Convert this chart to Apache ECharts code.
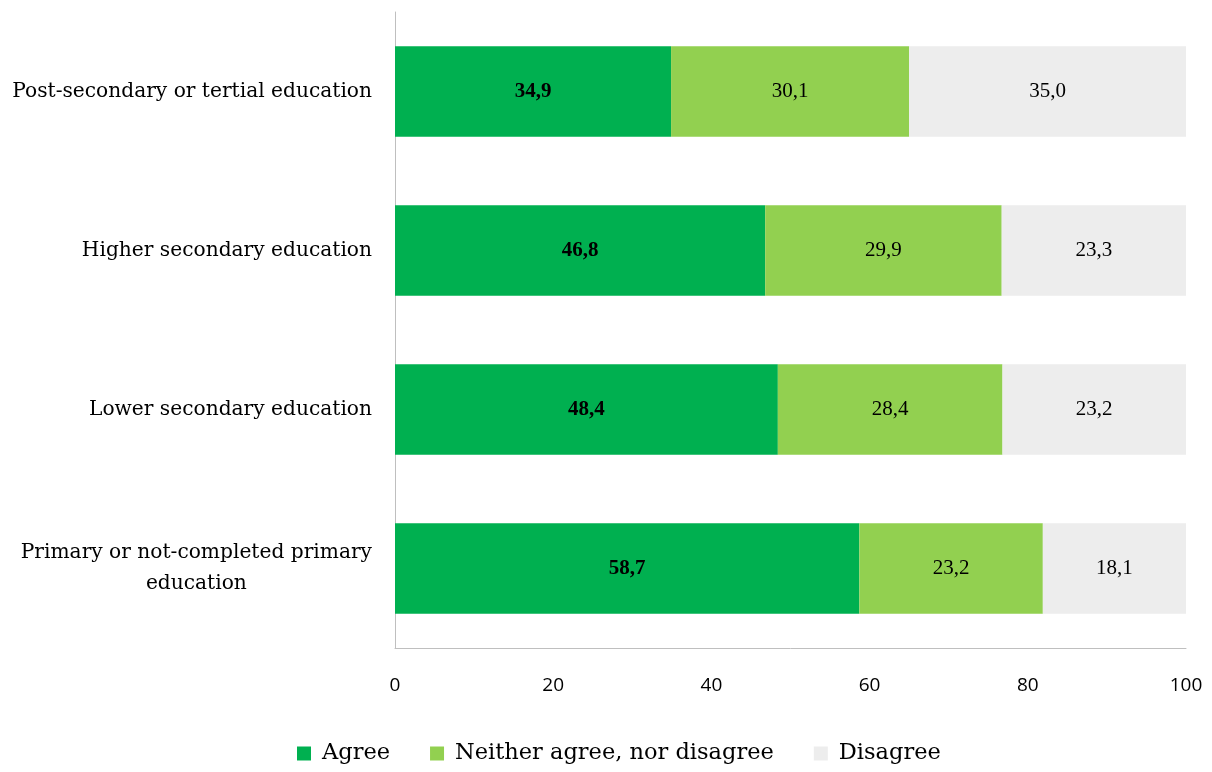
<!DOCTYPE html>
<html><head><meta charset="utf-8">
<script src="https://cdn.jsdelivr.net/npm/echarts@6/dist/echarts.min.js"></script>
<style>html,body{margin:0;padding:0;background:#fff}#c{width:1212px;height:772px}</style>
</head><body><div id="c"></div>
<script>
const categories = ["Primary or not-completed primary\neducation", "Lower secondary education", "Higher secondary education", "Post-secondary or tertial education"];
const agree = [58.7, 48.4, 46.8, 34.9];
const neither = [23.2, 28.4, 29.9, 30.1];
const disagree = [18.1, 23.2, 23.3, 35.0];
const seriesNames = ["Agree", "Neither agree, nor disagree", "Disagree"];
const xTicks = [0, 20, 40, 60, 80, 100];

const serif = "'Liberation Serif', 'DejaVu Serif', serif";
const wideSerif = "'DejaVu Serif', serif";
const fmt = p => p.value.toFixed(1).replace('.', ',');
function mk(name, data, color, bold) {
  return {
    name, type: 'bar', stack: 'a', data, barWidth: '57%',
    itemStyle: { color },
    label: { show: true, position: 'inside', formatter: fmt, color: '#000',
      fontFamily: serif, fontSize: 21, fontWeight: bold ? 'bold' : 'normal' }
  };
}
const yFont = { fontFamily: wideSerif, fontSize: 20.2, color: '#000', lineHeight: 31 };
const chart = echarts.init(document.getElementById('c'));
chart.setOption({
  animation: false,
  grid: { left: 395, right: 26, top: 12, bottom: 124, containLabel: false },
  legend: {
    bottom: 2, left: 292, itemWidth: 14, itemHeight: 14, itemGap: 40,
    icon: 'rect',
    textStyle: { fontFamily: wideSerif, fontSize: 22.5, color: '#000', padding: [0, 0, 0, 6] },
    data: seriesNames
  },
  xAxis: {
    type: 'value', min: 0, max: 100, interval: 20,
    axisLine: { show: true, lineStyle: { color: '#BFBFBF' } },
    axisTick: { show: false }, splitLine: { show: false },
    axisLabel: { fontFamily: "'Open Sans', sans-serif", fontSize: 19, color: '#000', margin: 28,
      formatter: v => xTicks.includes(v) ? String(v) : '' }
  },
  yAxis: {
    type: 'category', data: categories,
    axisLine: { show: true, lineStyle: { color: '#BFBFBF' } },
    axisTick: { show: false },
    axisLabel: Object.assign({ margin: 23,
      formatter: v => v.split('\n').map((s, i) => i === 0 ? '{a|' + s + '}' : '{c|' + s + '}').join('\n'),
      rich: { a: Object.assign({}, yFont), c: Object.assign({ align: 'center' }, yFont) }
    }, yFont)
  },
  series: [
    mk(seriesNames[0], agree, '#00B050', true),
    mk(seriesNames[1], neither, '#92D050', false),
    mk(seriesNames[2], disagree, '#EDEDED', false)
  ]
});
</script></body></html>
